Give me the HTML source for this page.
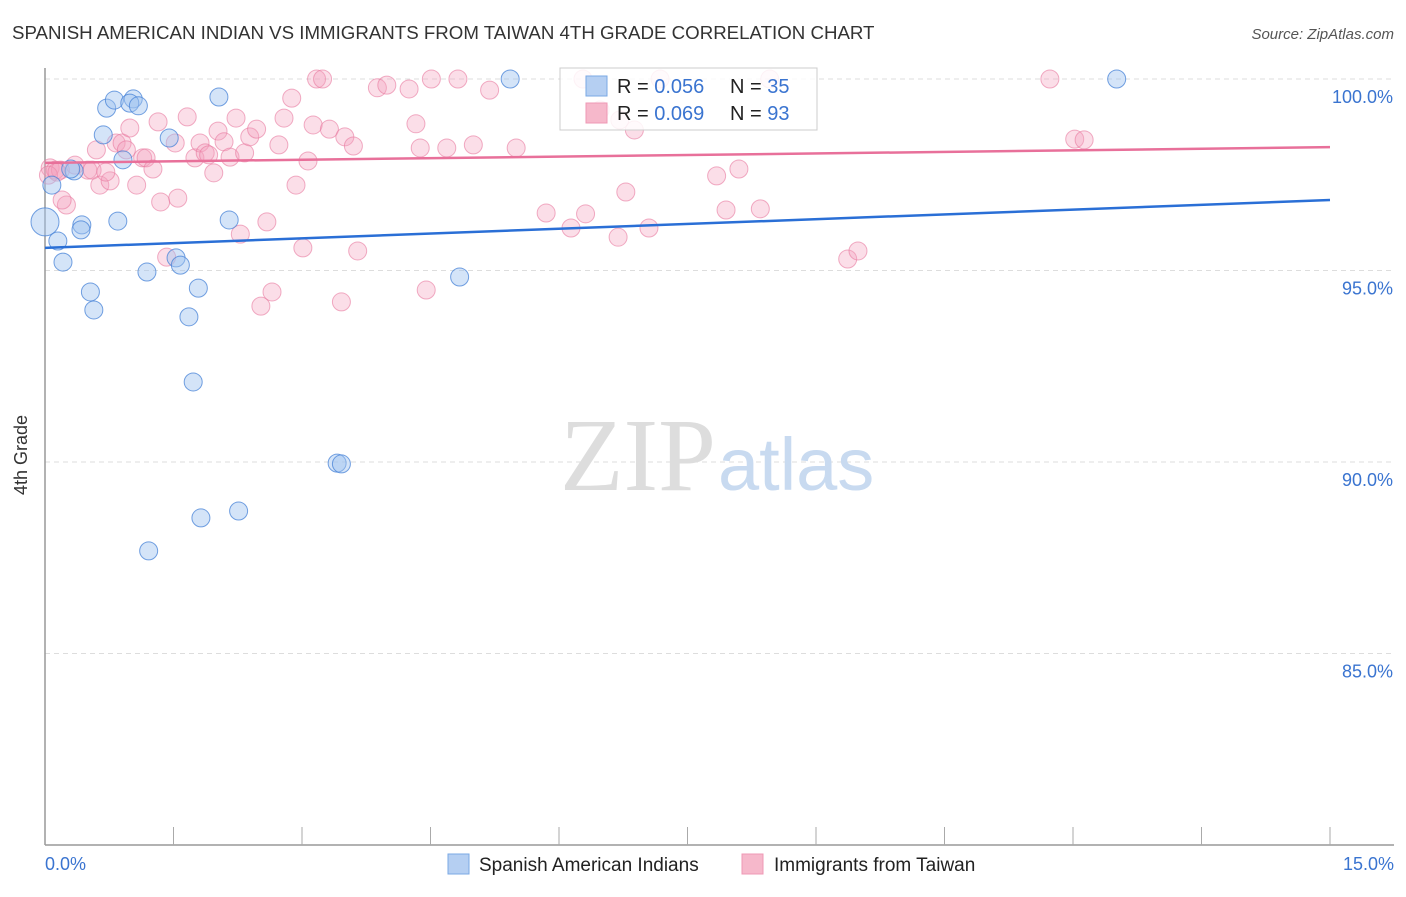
<!DOCTYPE html>
<html><head><meta charset="utf-8"><style>
body{margin:0;background:#fff;font-family:"Liberation Sans",sans-serif;}
</style></head><body>
<svg width="1406" height="892" xmlns="http://www.w3.org/2000/svg" style="font-family:'Liberation Sans',sans-serif">
<text x="12" y="39" font-size="18.7" fill="#333">SPANISH AMERICAN INDIAN VS IMMIGRANTS FROM TAIWAN 4TH GRADE CORRELATION CHART</text>
<text x="1394" y="39" font-size="15" fill="#555" text-anchor="end" font-style="italic">Source: ZipAtlas.com</text>
<g id="grid"></g>
<text x="716" y="490" font-size="104" fill="#ddd" text-anchor="end" font-family="Liberation Serif,serif">ZIP</text>
<text x="718" y="490" font-size="74" fill="#c8daf0">atlas</text>
<g id="axes"></g>
<g id="pts"></g>
<g id="lines"></g>
<text x="27" y="455" font-size="18" fill="#333" text-anchor="middle" transform="rotate(-90 27 455)">4th Grade</text>
<g>
<rect x="560" y="68" width="257" height="62" fill="#fff" fill-opacity="0.85" stroke="#ccc"/>
<rect x="586" y="76" width="21" height="20" fill="#b5cff2" stroke="#7aa8e4"/>
<rect x="586" y="103" width="21" height="20" fill="#f6b8cb" stroke="#ef98b5"/>
<text x="617" y="93" font-size="20" fill="#222">R = <tspan fill="#3a74d0">0.056</tspan></text>
<text x="730" y="93" font-size="20" fill="#222">N = <tspan fill="#3a74d0">35</tspan></text>
<text x="617" y="120" font-size="20" fill="#222">R = <tspan fill="#3a74d0">0.069</tspan></text>
<text x="730" y="120" font-size="20" fill="#222">N = <tspan fill="#3a74d0">93</tspan></text>
</g>
<g>
<rect x="448" y="854" width="21" height="20" fill="#b5cff2" stroke="#7aa8e4"/>
<text x="479" y="871" font-size="19" fill="#222">Spanish American Indians</text>
<rect x="742" y="854" width="21" height="20" fill="#f6b8cb" stroke="#ef98b5"/>
<text x="774" y="871" font-size="19" fill="#222">Immigrants from Taiwan</text>
</g>
</svg>
<script>
const yTicks=[100,95,90,85];
const xTickLabels=["0.0%","15.0%"];
const blueX=[0,0.15,0.21,0.08,0.34,0.68,0.72,0.81,1.03,0.99,1.09,0.91,0.85,0.43,0.42,1.45,2.03,0.53,0.57,1.19,1.53,1.58,1.79,1.68,1.73,2.15,3.41,3.46,1.82,2.26,1.21,4.84,5.43,12.51,0.30];
const blueY=[96.27,95.77,95.22,97.23,97.6,98.54,99.24,99.45,99.48,99.37,99.3,97.89,96.29,96.19,96.06,98.46,99.53,94.44,93.97,94.96,95.33,95.14,94.54,93.79,92.09,96.32,89.97,89.95,88.54,88.72,87.68,94.83,100,100,97.65];
const pinkX=[0.06,0.12,0.18,0.04,0.14,0.25,0.2,0.35,0.5,0.55,0.64,0.76,0.6,0.71,0.83,0.9,0.95,0.99,1.07,1.14,1.18,1.26,1.32,1.35,1.42,1.52,1.55,1.66,1.75,1.81,1.87,1.91,1.97,2.02,2.09,2.16,2.23,2.28,2.33,2.39,2.47,2.52,2.59,2.65,2.73,2.79,2.88,2.93,3.01,3.07,3.13,3.17,3.24,3.32,3.46,3.5,3.6,3.65,3.88,3.99,4.25,4.33,4.38,4.45,4.51,4.69,4.82,5.0,5.19,5.5,5.85,6.14,6.31,6.28,6.69,6.78,6.88,7.05,7.18,7.84,7.95,8.1,8.35,9.37,9.49,11.73,12.02,12.13,8.46,6.48,6.71];
const pinkY=[97.68,97.62,97.62,97.49,97.57,96.71,96.84,97.75,97.62,97.62,97.23,97.34,98.15,97.57,98.33,98.33,98.15,98.72,97.23,97.94,97.94,97.65,98.88,96.79,95.35,98.33,96.89,99.01,97.94,98.33,98.07,98.02,97.55,98.64,98.36,97.96,98.98,95.95,98.07,98.49,98.69,94.07,96.27,94.44,98.28,98.98,99.5,97.23,95.59,97.86,98.8,100,100,98.69,94.18,98.49,98.25,95.51,99.77,99.84,99.74,98.83,98.2,94.49,100,98.2,100,98.28,99.71,98.2,96.5,96.11,96.48,100,95.87,97.05,98.67,96.11,100,97.47,96.58,97.65,96.61,95.3,95.51,100,98.43,98.41,100,99.19,98.93];
const blueTrend=[95.59,96.84];
const pinkTrend=[97.81,98.22];
const X=v=>45+v*(1285/15);
const Y=v=>79+(100-v)*38.3;
const NS="http://www.w3.org/2000/svg";
function mk(t,a,p){const e=document.createElementNS(NS,t);for(const k in a)e.setAttribute(k,a[k]);p.appendChild(e);return e;}
const grid=document.getElementById('grid'),axes=document.getElementById('axes'),pts=document.getElementById('pts'),lines=document.getElementById('lines');
yTicks.forEach(t=>{
 const l=mk('line',{x1:45,x2:1394,y1:Y(t),y2:Y(t),stroke:'#ddd','stroke-dasharray':'5,4'},grid);
 
 
 const tx=mk('text',{x:1393,y:Y(t)+24,'font-size':18,fill:'#3a74d0','text-anchor':'end'},grid);
 tx.textContent=t.toFixed(1)+'%';
 
 
});
const ya=mk('line',{x1:45,x2:45,y1:68,y2:845,stroke:'#999','stroke-width':1.5},axes);


const xa=mk('line',{x1:45,x2:1394,y1:845,y2:845,stroke:'#999','stroke-width':1.5},axes);


for(let i=1;i<=10;i++){const tk=mk('line',{x1:X(i*1.5),x2:X(i*1.5),y1:827,y2:845,stroke:'#aaa'},axes);
 
 }
[[0,'start',45],[1,'end',1394]].forEach(([i,a,x])=>{const t=mk('text',{x:x,y:870,'font-size':18,fill:'#3a74d0','text-anchor':a},axes);t.textContent=xTickLabels[i];
 
 });
pinkX.forEach((v,i)=>{const c=mk('circle',{cx:X(v),cy:Y(pinkY[i]),r:9,fill:'rgba(244,160,188,0.35)',stroke:'rgba(232,120,158,0.6)'},pts);
 
 });
blueX.forEach((v,i)=>{const c=mk('circle',{cx:X(v),cy:Y(blueY[i]),r:i==0?14:9,fill:'rgba(160,195,240,0.45)',stroke:'rgba(70,130,215,0.75)'},pts);
 
 });
const bl=mk('line',{x1:X(0),x2:X(15),y1:Y(blueTrend[0]),y2:Y(blueTrend[1]),stroke:'#2a6fd6','stroke-width':2.5},lines);


const pl=mk('line',{x1:X(0),x2:X(15),y1:Y(pinkTrend[0]),y2:Y(pinkTrend[1]),stroke:'#e8709a','stroke-width':2.5},lines);


</script>
</body></html>
